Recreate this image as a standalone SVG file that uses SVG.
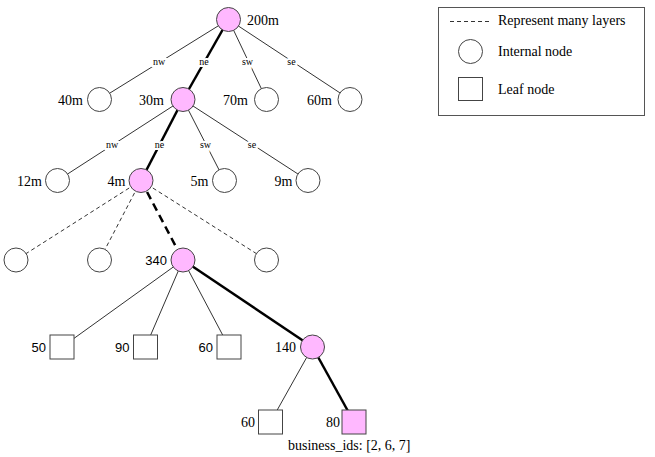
<svg xmlns="http://www.w3.org/2000/svg" width="655" height="457" viewBox="0 0 655 457">
<style>
.e{stroke:#333;stroke-width:1;fill:none}
.b{stroke:#000;stroke-width:2.5;fill:none}
.d{stroke:#333;stroke-width:1;stroke-dasharray:4 3;fill:none}
.bd{stroke:#000;stroke-width:2.5;stroke-dasharray:8 5;fill:none}
.n{fill:#fff;stroke:#444;stroke-width:1}
.p{fill:#ffb8ff;stroke:#444;stroke-width:1}
.t{font-family:"Liberation Serif",serif;font-size:14px;fill:#000}
.s{font-family:"Liberation Sans",sans-serif;font-size:13px;fill:#000}
.l{font-family:"Liberation Serif",serif;font-size:10px;fill:#000;text-anchor:middle;stroke:#fff;stroke-width:4;paint-order:stroke}
.r{text-anchor:end}
</style>
<g id="connectors">
<line class="e" x1="228.5" y1="19.5" x2="99.5" y2="99.5"/>
<line class="b" x1="228.5" y1="19.5" x2="183" y2="99.5"/>
<line class="e" x1="228.5" y1="19.5" x2="266.5" y2="99.5"/>
<line class="e" x1="228.5" y1="19.5" x2="350" y2="99.5"/>
<text class="l" x="159" y="65">nw</text>
<text class="l" x="204" y="65">ne</text>
<text class="l" x="247.5" y="65">sw</text>
<text class="l" x="291.5" y="65">se</text>
<line class="e" x1="183" y1="99.5" x2="57.5" y2="180.5"/>
<line class="b" x1="183" y1="99.5" x2="141" y2="180.5"/>
<line class="e" x1="183" y1="99.5" x2="224.5" y2="180.5"/>
<line class="e" x1="183" y1="99.5" x2="308" y2="180.5"/>
<text class="l" x="112" y="148">nw</text>
<text class="l" x="159.5" y="148">ne</text>
<text class="l" x="205.5" y="148">sw</text>
<text class="l" x="252" y="148">se</text>
<line class="d" x1="141" y1="180.5" x2="16" y2="260"/>
<line class="d" x1="141" y1="180.5" x2="99.5" y2="260"/>
<line class="bd" x1="141" y1="180.5" x2="183" y2="260"/>
<line class="d" x1="141" y1="180.5" x2="266.5" y2="260"/>
<line class="e" x1="183" y1="260" x2="62" y2="347"/>
<line class="e" x1="183" y1="260" x2="145.5" y2="347"/>
<line class="e" x1="183" y1="260" x2="229" y2="347"/>
<line class="b" x1="183" y1="260" x2="312.5" y2="347"/>
<line class="e" x1="312.5" y1="347" x2="270.5" y2="422"/>
<line class="b" x1="312.5" y1="347" x2="354" y2="422"/>
</g>
<g id="n200"><circle class="p" cx="228.5" cy="19.5" r="12"/><text class="t" x="247" y="25">200m</text></g>
<g id="n40"><circle class="n" cx="99.5" cy="99.5" r="12"/><text class="t r" x="83" y="105">40m</text></g>
<g id="n30"><circle class="p" cx="183" cy="99.5" r="12"/><text class="t r" x="164" y="105">30m</text></g>
<g id="n70"><circle class="n" cx="266.5" cy="99.5" r="12"/><text class="t r" x="248" y="105">70m</text></g>
<g id="n60m"><circle class="n" cx="350" cy="99.5" r="12"/><text class="t r" x="332" y="105">60m</text></g>
<g id="n12"><circle class="n" cx="57.5" cy="180.5" r="12"/><text class="t r" x="42" y="186">12m</text></g>
<g id="n4"><circle class="p" cx="141" cy="180.5" r="12"/><text class="t r" x="125.5" y="186">4m</text></g>
<g id="n5"><circle class="n" cx="224.5" cy="180.5" r="12"/><text class="t r" x="208.5" y="186">5m</text></g>
<g id="n9"><circle class="n" cx="308" cy="180.5" r="12"/><text class="t r" x="292.5" y="186">9m</text></g>
<g id="m1"><circle class="n" cx="16" cy="260" r="12"/></g>
<g id="m2"><circle class="n" cx="99.5" cy="260" r="12"/></g>
<g id="n340"><circle class="p" cx="183" cy="260" r="12"/><text class="s r" x="167" y="265">340</text></g>
<g id="m4"><circle class="n" cx="266.5" cy="260" r="12"/></g>
<g id="l50"><rect class="n" x="50" y="335" width="24" height="24"/><text class="s r" x="46" y="352">50</text></g>
<g id="l90"><rect class="n" x="133.5" y="335" width="24" height="24"/><text class="s r" x="129.5" y="352">90</text></g>
<g id="l60a"><rect class="n" x="217" y="335" width="24" height="24"/><text class="s r" x="213" y="352">60</text></g>
<g id="n140"><circle class="p" cx="312.5" cy="347" r="12"/><text class="t r" x="296" y="352">140</text></g>
<g id="l60b"><rect class="n" x="258.5" y="410" width="24" height="24"/><text class="t r" x="255" y="427">60</text></g>
<g id="l80"><rect class="p" x="342" y="410" width="24" height="24"/><text class="t r" x="340" y="427">80</text><text class="t" x="288" y="450">business_ids: [2, 6, 7]</text></g>
<g id="legend">
<rect x="438.5" y="7.5" width="206" height="108" fill="#fff" stroke="#555" stroke-width="1"/>
<line class="d" x1="450" y1="21.5" x2="490" y2="21.5"/>
<text class="t" x="498" y="25">Represent many layers</text>
<circle class="n" cx="470.5" cy="51.5" r="12"/>
<text class="t" x="498" y="56">Internal node</text>
<rect class="n" x="458.5" y="77.5" width="24" height="23"/>
<text class="t" x="498" y="94">Leaf node</text>
</g>
</svg>
